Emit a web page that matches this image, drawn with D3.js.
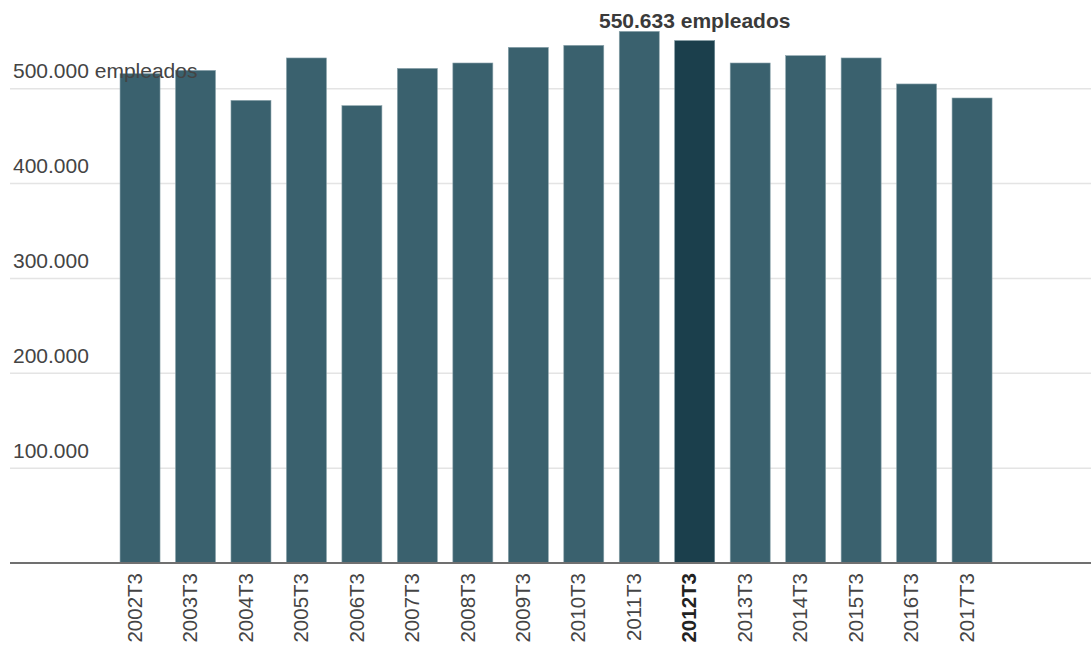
<!DOCTYPE html>
<html>
<head>
<meta charset="utf-8">
<script src="https://cdn.jsdelivr.net/npm/d3@7"></script>
<style>
  html, body { margin: 0; padding: 0; background: #fff; }
  svg { display: block; font-family: "Liberation Sans", Arial, sans-serif; }
</style>
</head>
<body>
<svg id="chart" width="1091" height="646"></svg>
<script>
const categories = ["2002T3","2003T3","2004T3","2005T3","2006T3","2007T3","2008T3","2009T3","2010T3","2011T3","2012T3","2013T3","2014T3","2015T3","2016T3","2017T3"];
const empleados = [515800, 519300, 487700, 532400, 482100, 521400, 527100, 543600, 545700, 560400, 550633, 527100, 534800, 532400, 505000, 490200];
const yTicks = [100000, 200000, 300000, 400000, 500000];
const yTickLabels = ["100.000", "200.000", "300.000", "400.000", "500.000 empleados"];
const highlight = "2012T3";
const highlightLabel = "550.633 empleados";

const svg = d3.select("#chart");
const W = 1091;

const x = d3.scaleBand()
  .domain(categories)
  .range([112.3, 999.8])
  .paddingInner(0.279)
  .paddingOuter(0.1395);

const y = d3.scaleLinear()
  .domain([0, 500000])
  .range([563, 88.7]);

// gridlines
svg.append("g").selectAll("line")
  .data(yTicks)
  .join("line")
  .attr("x1", 10).attr("x2", W)
  .attr("y1", d => y(d)).attr("y2", d => y(d))
  .attr("stroke", "#e4e4e4")
  .attr("stroke-width", 1.5);

// bars
const data = categories.map((c, i) => ({ c, v: empleados[i] }));
svg.append("g").selectAll("rect")
  .data(data)
  .join("rect")
  .attr("x", d => x(d.c))
  .attr("width", x.bandwidth())
  .attr("y", d => y(d.v))
  .attr("height", d => y(0) - y(d.v))
  .attr("fill", d => d.c === highlight ? "#1b3f4c" : "#3a616e")
  .attr("stroke", d => d.c === highlight ? "#6f8c96" : "#8aa3ab")
  .attr("stroke-width", 0.6);

// baseline axis
svg.append("line")
  .attr("x1", 10).attr("x2", W)
  .attr("y1", y(0)).attr("y2", y(0))
  .attr("stroke", "#707070")
  .attr("stroke-width", 2);

// y labels
svg.append("g").selectAll("text")
  .data(yTicks)
  .join("text")
  .attr("x", 13)
  .attr("y", d => y(d) - 10.6)
  .attr("font-size", 21)
  .attr("fill", "#444")
  .text((d, i) => yTickLabels[i]);

// x labels
svg.append("g").selectAll("text")
  .data(categories)
  .join("text")
  .attr("transform", d => `translate(${x(d) + x.bandwidth() / 2 + 1.7},573) rotate(-90)`)
  .attr("text-anchor", "end")
  .attr("font-size", 20.5)
  .attr("font-weight", d => d === highlight ? "bold" : "normal")
  .attr("fill", d => d === highlight ? "#222" : "#444")
  .text(d => d);

// highlight label
const hv = empleados[categories.indexOf(highlight)];
svg.append("text")
  .attr("x", x(highlight) + x.bandwidth() / 2)
  .attr("y", y(hv) - 12.5)
  .attr("text-anchor", "middle")
  .attr("font-size", 21)
  .attr("font-weight", "bold")
  .attr("fill", "#3a3a3a")
  .text(highlightLabel);
</script>
</body>
</html>
